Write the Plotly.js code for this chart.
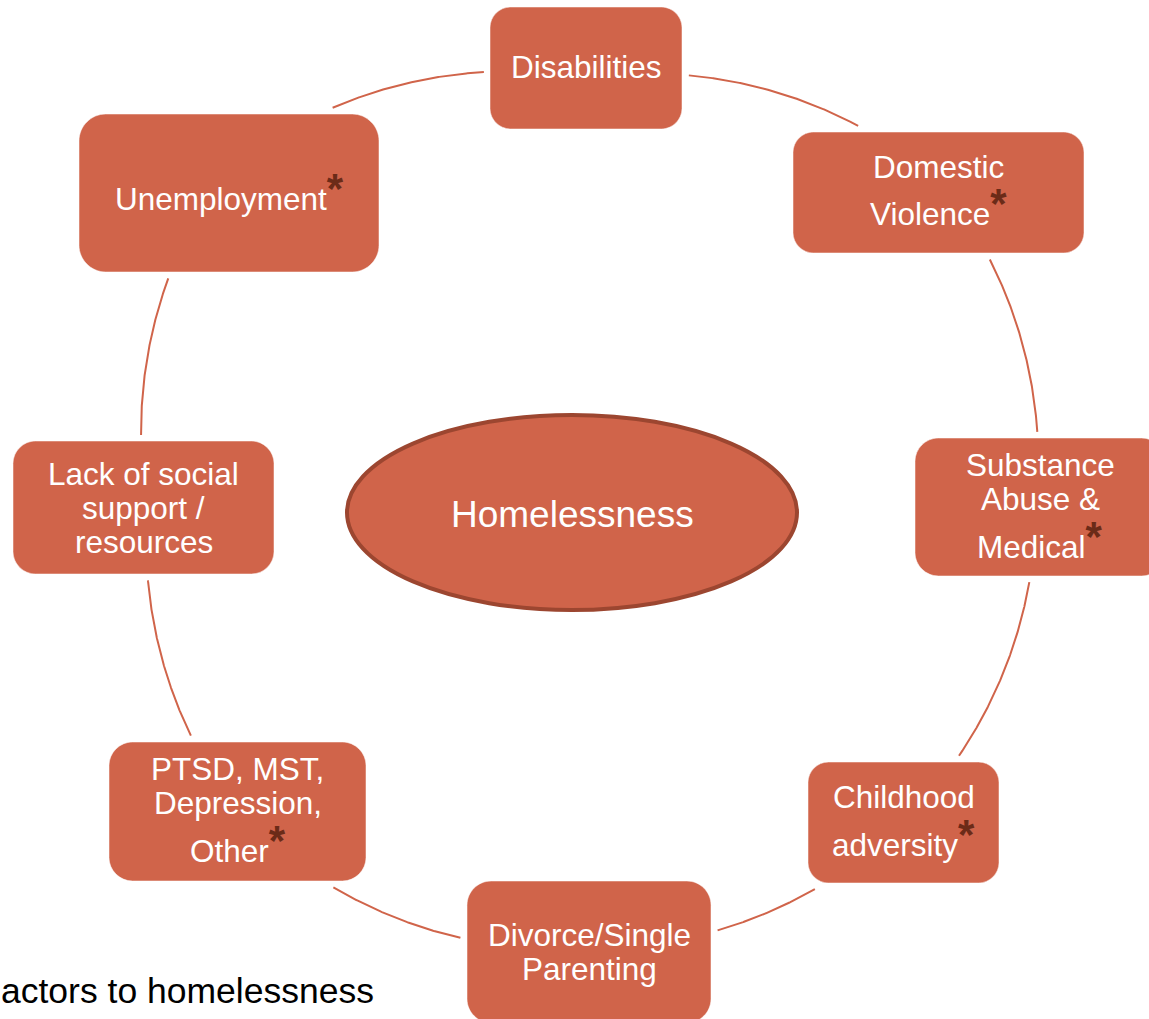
<!DOCTYPE html>
<html>
<head>
<meta charset="utf-8">
<script src="https://cdn.plot.ly/plotly-3.0.1.min.js"></script>
<style>html,body{margin:0;padding:0;background:#fff;}#chart{width:1149px;height:1019px;}</style>
</head>
<body>
<div id="chart"></div>
<script>
// ---------------- DATA ----------------
const factorLabels = [
  ["Disabilities"],
  ["Domestic", "Violence"],
  ["Substance", "Abuse &", "Medical"],
  ["Childhood", "adversity"],
  ["Divorce/Single", "Parenting"],
  ["PTSD, MST,", "Depression,", "Other"],
  ["Lack of social", "support /", "resources"],
  ["Unemployment"]
];
const factorStarred = [false, true, true, true, false, true, false, true];
const centerLabel = "Homelessness";
const captionText = "actors to homelessness";

// ---------------- LAYOUT (pixel geometry of the diagram) ----------------
const W = 1149, H = 1019;
const nodeBoxes = [
  {cx: 586,   cy: 68,    w: 192, h: 122, ty: 67,    ax: 0,  ay: 10},
  {cx: 938.5, cy: 192.5, w: 291, h: 121, ty: 189.5, ax: 0,  ay: -12},
  {cx: 1040,  cy: 507,   w: 250, h: 138, ty: 505,   ax: -4, ay: 0},
  {cx: 903.5, cy: 822.5, w: 191, h: 121, ty: 820,   ax: 0,  ay: 0},
  {cx: 589,   cy: 952,   w: 244, h: 142, ty: 952,   ax: 0,  ay: -4},
  {cx: 237.5, cy: 811.5, w: 257, h: 139, ty: 809,   ax: 0,  ay: 0},
  {cx: 143.5, cy: 507.5, w: 261, h: 133, ty: 507.5, ax: 4,  ay: 0},
  {cx: 229,   cy: 193,   w: 300, h: 158, ty: 197,   ax: -8, ay: -16}
];
const hub = {cx: 572, cy: 512.5, rx: 225, ry: 97.5};
const diagramCenter = {x: 588, y: 512};
const arcRadius = 446;
const arcGap = 6;
const lineStep = 34, starLineStep = 46;
const fontSize = 31.5, starSize = 42, starRaisePx = 7, starLineBottom = 20.75;
const fontFamily = "Liberation Sans, Arial, sans-serif";
const fill = "#D0644A", hubLine = "#9C4630", starColor = "#6B2B18";

// ---------------- helpers ----------------
function roundRect(x0, y0, x1, y1, r) {
  return `M${x0+r},${y0} L${x1-r},${y0} C${x1-r*0.45},${y0} ${x1},${y0+r*0.45} ${x1},${y0+r} ` +
         `L${x1},${y1-r} C${x1},${y1-r*0.45} ${x1-r*0.45},${y1} ${x1-r},${y1} ` +
         `L${x0+r},${y1} C${x0+r*0.45},${y1} ${x0},${y1-r*0.45} ${x0},${y1-r} ` +
         `L${x0},${y0+r} C${x0},${y0+r*0.45} ${x0+r*0.45},${y0} ${x0+r},${y0} Z`;
}
function insideAnyBox(x, y, pad) {
  return nodeBoxes.some(b => Math.abs(x - b.cx) <= b.w/2 + pad && Math.abs(y - b.cy) <= b.h/2 + pad);
}

// ---------------- arcs ----------------
const arcX = [], arcY = [];
for (let i = 0; i < nodeBoxes.length; i++) {
  const A = nodeBoxes[i], B = nodeBoxes[(i+1) % nodeBoxes.length];
  const Ax = A.cx + A.ax, Ay = A.cy + A.ay, Bx = B.cx + B.ax, By = B.cy + B.ay;
  const mx = (Ax + Bx)/2, my = (Ay + By)/2;
  const dx = Bx - Ax, dy = By - Ay;
  const c = Math.hypot(dx, dy), half = c/2;
  const d = Math.sqrt(arcRadius*arcRadius - half*half);
  let nx = -dy/c, ny = dx/c;
  if ((diagramCenter.x - mx)*nx + (diagramCenter.y - my)*ny < 0) { nx = -nx; ny = -ny; }
  const ox = mx + nx*d, oy = my + ny*d;
  let a0 = Math.atan2(Ay - oy, Ax - ox), a1 = Math.atan2(By - oy, Bx - ox);
  let da = a1 - a0;
  while (da > Math.PI) da -= 2*Math.PI;
  while (da < -Math.PI) da += 2*Math.PI;
  const N = 400;
  let drawing = false;
  for (let k = 0; k <= N; k++) {
    const a = a0 + da*k/N;
    const x = ox + arcRadius*Math.cos(a), y = oy + arcRadius*Math.sin(a);
    if (insideAnyBox(x, y, arcGap)) {
      if (drawing) { arcX.push(null); arcY.push(null); drawing = false; }
    } else {
      arcX.push(x); arcY.push(y); drawing = true;
    }
  }
  arcX.push(null); arcY.push(null);
}

// ---------------- shapes & annotations ----------------
const shapes = [];
const annotations = [];
const starSpan = `<span style="font-size:${starSize}px;font-weight:bold;color:${starColor};baseline-shift:${starRaisePx}px">*</span>`;
nodeBoxes.forEach((b, i) => {
  const r = Math.min(b.w, b.h) * 0.17;
  shapes.push({type: "path", xref: "x", yref: "y",
    path: roundRect(b.cx - b.w/2, b.cy - b.h/2, b.cx + b.w/2, b.cy + b.h/2, r),
    fillcolor: fill, line: {color: "rgba(255,255,255,0.5)", width: 1}, layer: "above"});
  const lines = factorLabels[i];
  const steps = lines.map((s, k) => k === 0 ? 0 : ((factorStarred[i] && k === lines.length - 1) ? starLineStep : lineStep));
  const total = steps.reduce((p, q) => p + q, 0);
  let y = b.ty - total/2;
  lines.forEach((s, k) => {
    y += steps[k];
    const hasStar = factorStarred[i] && k === lines.length - 1;
    annotations.push({x: b.cx, y: hasStar ? y + starLineBottom : y, xref: "x", yref: "y",
      text: hasStar ? s + starSpan : s, showarrow: false, borderpad: 0,
      xanchor: "center", yanchor: hasStar ? "bottom" : "middle",
      font: {family: fontFamily, size: fontSize, color: "#ffffff"}});
  });
});
shapes.push({type: "circle", xref: "x", yref: "y",
  x0: hub.cx - hub.rx, x1: hub.cx + hub.rx, y0: hub.cy - hub.ry, y1: hub.cy + hub.ry,
  fillcolor: fill, line: {color: hubLine, width: 4}, layer: "above"});
annotations.push({x: hub.cx, y: hub.cy + 2, xref: "x", yref: "y", text: centerLabel, showarrow: false,
  xanchor: "center", yanchor: "middle", font: {family: fontFamily, size: 37, color: "#ffffff"}});
annotations.push({x: 376, y: 991, xref: "x", yref: "y", text: captionText, showarrow: false,
  xanchor: "right", yanchor: "middle", font: {family: fontFamily, size: 35.5, color: "#000000"}});

const traces = [{x: arcX, y: arcY, type: "scatter", mode: "lines",
  line: {color: fill, width: 2}, hoverinfo: "skip", connectgaps: false}];

const layout = {
  width: W, height: H, margin: {l: 0, r: 0, t: 0, b: 0},
  paper_bgcolor: "#ffffff", plot_bgcolor: "#ffffff", showlegend: false,
  xaxis: {range: [0, W], visible: false, fixedrange: true},
  yaxis: {range: [H, 0], visible: false, fixedrange: true},
  shapes: shapes, annotations: annotations
};
Plotly.newPlot("chart", traces, layout, {displayModeBar: false, staticPlot: true});
</script>
</body>
</html>
